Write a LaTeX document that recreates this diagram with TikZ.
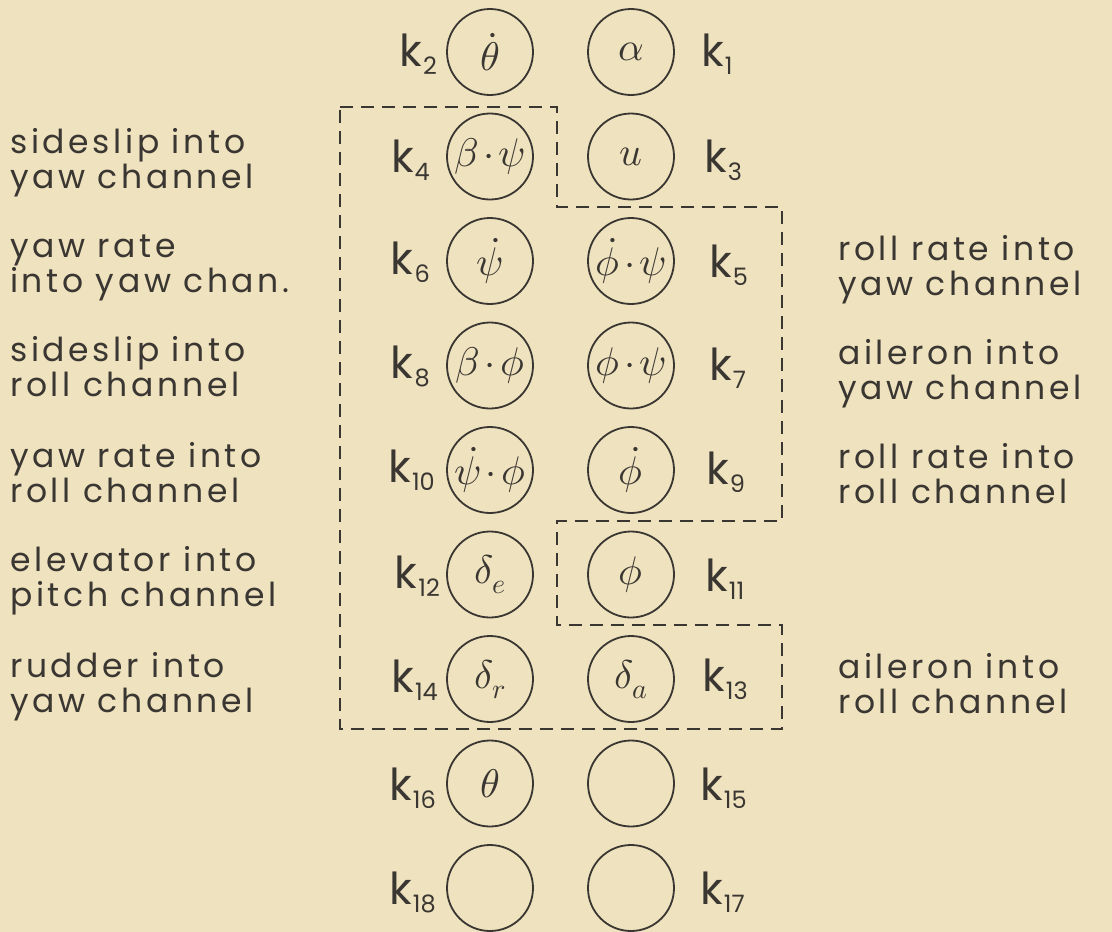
\documentclass[tikz,border=0pt]{standalone}
\usepackage{fontspec}
\usepackage{unicode-math}
\setmainfont{Poppins}[LetterSpace=11]
\setmathfont{Latin Modern Math}
\definecolor{bg}{RGB}{239,226,190}
\definecolor{ink}{RGB}{58,54,50}
\newfontfamily\kfont{Poppins}
\newcommand\kk[1]{{\kfont k\kern1pt\raisebox{-0.2em}{\fontsize{24}{24}\selectfont #1}}}
\newcommand\pdot{\mathord{\mkern2mu\cdot\mkern2mu}}
\newcommand\sym[1]{$#1$}
\tikzset{
  circ/.style={circle, draw=ink, line width=1.8pt, minimum size=86pt, inner sep=0pt, text=ink, font=\fontsize{40}{40}\selectfont},
  klab/.style={inner sep=0pt, text=ink, font=\fontsize{44}{44}\selectfont},
  kleft/.style={klab, anchor=base east},
  kright/.style={klab, anchor=base west},
  desc/.style={inner sep=0pt, text=ink, align=left, anchor=base west, font=\fontsize{33}{35}\selectfont},
  dashbox/.style={draw=ink, line width=1.8pt, dash pattern=on 13pt off 8pt}
}
\begin{document}
\begin{tikzpicture}[x=1pt,y=-1pt]
\fill[bg] (0,0) rectangle (1112,932);
\useasboundingbox (0,0) rectangle (1112,932);
% circles
\node[circ] (c2)  at (490,52)    {\sym{\dot\theta}};
\node[circ] (c1)  at (631,52)    {\sym{\alpha}};
\node[circ] (c4)  at (490,156.5) {\sym{\beta\pdot\psi}};
\node[circ] (c3)  at (631,156.5) {\sym{u}};
\node[circ] (c6)  at (490,261)   {\sym{\dot\psi}};
\node[circ] (c5)  at (631,261)   {\sym{\dot\phi\pdot\psi}};
\node[circ] (c8)  at (490,365.5) {\sym{\beta\pdot\phi}};
\node[circ] (c7)  at (631,365.5) {\sym{\phi\pdot\psi}};
\node[circ] (c10) at (490,470)   {\sym{\dot\psi\pdot\phi}};
\node[circ] (c9)  at (631,470)   {\sym{\dot\phi}};
\node[circ] (c12) at (490,574.5) {\sym{\delta_e}};
\node[circ] (c11) at (631,574.5) {\sym{\phi}};
\node[circ] (c14) at (490,679)   {\sym{\delta_r}};
\node[circ] (c13) at (631,679)   {\sym{\delta_a}};
\node[circ] (c16) at (490,783.5) {\sym{\theta}};
\node[circ] (c15) at (631,783.5) {};
\node[circ] (c18) at (490,888)   {};
\node[circ] (c17) at (631,888)   {};
% k labels
\node[kleft]  (k2)  at (437,66)    {\kk{2}};
\node[kright] (k1)  at (701,66)    {\kk{1}};
\node[kleft]  (k4)  at (430,172)   {\kk{4}};
\node[kright] (k3)  at (704,172)   {\kk{3}};
\node[kleft]  (k6)  at (430,274)   {\kk{6}};
\node[kright] (k5)  at (709,277)   {\kk{5}};
\node[kleft]  (k8)  at (430,378)   {\kk{8}};
\node[kright] (k7)  at (709,380)   {\kk{7}};
\node[kleft]  (k10) at (435,482)   {\kk{10}};
\node[kright] (k9)  at (706,484)   {\kk{9}};
\node[kleft]  (k12) at (440,588)   {\kk{12}};
\node[kright] (k11) at (705,591)   {\kk{11}};
\node[kleft]  (k14) at (438,692)   {\kk{14}};
\node[kright] (k13) at (702,691)   {\kk{13}};
\node[kleft]  (k16) at (436,800)   {\kk{16}};
\node[kright] (k15) at (700,800)   {\kk{15}};
\node[kleft]  (k18) at (436,904)   {\kk{18}};
\node[kright] (k17) at (700,904)   {\kk{17}};
% dashed outline
\draw[dashbox] (340,107) -- (557,107) -- (557,207) -- (782,207) -- (782,521)
  -- (557,521) -- (557,625) -- (782,625) -- (782,729) -- (340,729) -- cycle;
% descriptions, left (anchor = baseline of last line)
\node[desc] (d4)  at (10,188) {sideslip into\\yaw channel};
\node[desc] (d6)  at (10,292) {yaw rate\\into yaw chan.};
\node[desc] (d8)  at (10,396) {sideslip into\\roll channel};
\node[desc] (d10) at (10,502) {yaw rate into\\roll channel};
\node[desc] (d12) at (10,606) {elevator into\\pitch channel};
\node[desc] (d14) at (10,712) {rudder into\\yaw channel};
% descriptions, right
\node[desc] (d5)  at (838,295) {roll rate into\\yaw channel};
\node[desc] (d7)  at (838,399) {aileron into\\yaw channel};
\node[desc] (d9)  at (838,503) {roll rate into\\roll channel};
\node[desc] (d13) at (838,713) {aileron into\\roll channel};
\end{tikzpicture}
\end{document}
